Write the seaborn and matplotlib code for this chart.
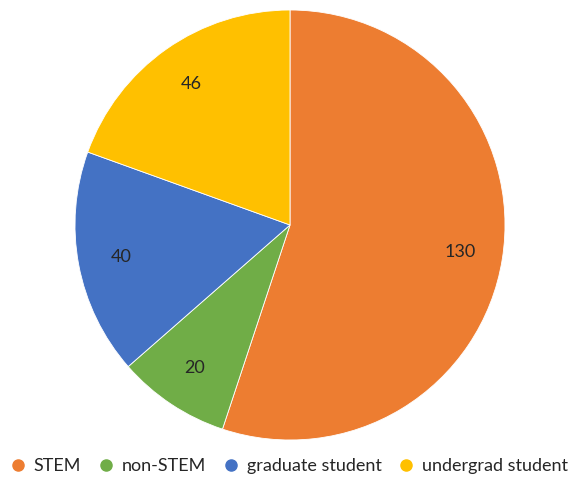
import matplotlib
matplotlib.use("Agg")
import matplotlib.pyplot as plt
import seaborn as sns
from matplotlib.lines import Line2D

sns.set_theme(style="white")
plt.rcParams['font.family'] = ['Lato', 'DejaVu Sans']

categories = ['STEM', 'non-STEM', 'graduate student', 'undergrad student']
counts = [130, 20, 40, 46]
colors = ['#ED7D31', '#70AD47', '#4472C4', '#FFC000']

W, H = 573, 482
fig = plt.figure(figsize=(W / 100, H / 100), dpi=100)
cx, cy, r = 290, 225, 215
ax = fig.add_axes([(cx - r) / W, (H - cy - r) / H, 2 * r / W, 2 * r / H])

ax.pie(counts, colors=colors, startangle=90, counterclock=False,
       labels=[str(v) for v in counts], labeldistance=0.8,
       wedgeprops=dict(edgecolor='white', linewidth=0.6),
       textprops=dict(fontsize=13, color='#262626', ha='center', va='center'))
ax.set_xlim(-1, 1)
ax.set_ylim(-1, 1)
ax.set_aspect('equal')
ax.axis('off')

handles = [Line2D([0], [0], marker='o', linestyle='', markersize=8,
                  markerfacecolor=c, markeredgecolor=c) for c in colors]
fig.legend(handles, categories, loc='center', ncol=4, frameon=False,
           bbox_to_anchor=(0.505, 16 / H), fontsize=13, handlelength=0.8,
           handletextpad=0.5, columnspacing=0.95, labelcolor='#262626')

fig.savefig('out.png', dpi=100)
